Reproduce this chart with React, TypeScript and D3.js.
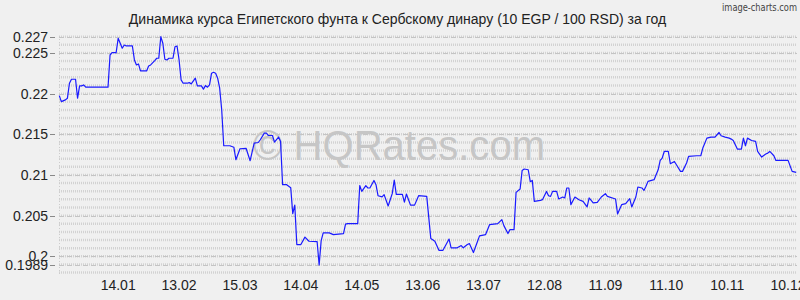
import React from "react";
import * as d3 from "d3";

const title = "Динамика курса Египетского фунта к Сербскому динару (10 EGP / 100 RSD) за год";
const brand = "image-charts.com";
const watermark = "© HQRates.com";

// day offsets from the first point (16.12) and the rate
const rateDays = [
  0, 1, 3, 4, 5, 6, 8, 9, 10, 11, 12, 13, 24, 25, 26, 28, 29, 30, 31, 32, 33, 36, 37, 38, 39, 40, 43, 44, 45, 47,
  48, 49, 50, 51, 52, 53, 54, 56, 57, 58, 59, 60, 61, 63, 64, 65, 67, 68, 70, 71, 72, 73, 74, 75, 76, 77, 78, 79,
  80, 81, 84, 86, 87, 89, 92, 94, 96, 98, 99, 101, 102, 103, 105, 106, 108, 109, 110, 112, 114, 115, 116, 117, 119,
  121, 123, 127, 128, 129, 130, 133, 135, 140, 141, 142, 147, 148, 149, 151, 152, 153, 155, 156, 157, 159, 160, 162,
  164, 165, 166, 169, 170, 171, 173, 175, 177, 181, 183, 185, 187, 189, 192, 193, 196, 198, 199, 201, 202, 204, 206,
  207, 210, 212, 216, 218, 219, 221, 222, 224, 225, 227, 228, 229, 231, 232, 233, 234, 237, 238, 240, 241, 242, 243,
  245, 246, 248, 249, 250, 251, 252, 254, 256, 258, 260, 261, 263, 265, 267, 269, 270, 274, 275, 277, 279, 281, 282,
  284, 285, 287, 288, 289, 290, 293, 295, 296, 297, 298, 300, 301, 303, 304, 306, 307, 309, 310, 314, 316, 317, 319,
  321, 323, 325, 326, 328, 330, 331, 332, 334, 336, 337, 338, 339, 341, 343, 344, 346, 348, 349, 350, 352, 353, 359,
  361, 363,
];
const rates = [
  0.21976, 0.21902, 0.21923, 0.21944, 0.22128, 0.22177, 0.22177, 0.21944, 0.22095, 0.22095, 0.22107, 0.22079, 0.22079,
  0.22475, 0.22504, 0.22504, 0.2268, 0.22619, 0.22558, 0.22598, 0.22586, 0.22586, 0.22414, 0.22353, 0.22365, 0.22279,
  0.22279, 0.2234, 0.22353, 0.22406, 0.22435, 0.22435, 0.227, 0.22619, 0.22423, 0.22414, 0.22435, 0.22435, 0.22577,
  0.22586, 0.22414, 0.22169, 0.22128, 0.22128, 0.22136, 0.2212, 0.2219, 0.22095, 0.22095, 0.22055, 0.22099, 0.22079,
  0.22107, 0.22251, 0.22263, 0.22251, 0.2219, 0.22067, 0.21801, 0.21359, 0.21359, 0.2134, 0.21187, 0.21322, 0.21328,
  0.21175, 0.21392, 0.21399, 0.21433, 0.21515, 0.21515, 0.21485, 0.21485, 0.21404, 0.21466, 0.21412, 0.2088, 0.2088,
  0.20844, 0.20525, 0.20629, 0.20144, 0.20144, 0.20236, 0.20185, 0.20181, 0.19893, 0.20193, 0.20288, 0.20288, 0.20267,
  0.20279, 0.20396, 0.20402, 0.20402, 0.2087, 0.20798, 0.20868, 0.2084, 0.2084, 0.20933, 0.2088, 0.20745, 0.2073,
  0.20758, 0.20619, 0.2077, 0.20938, 0.20761, 0.20761, 0.20666, 0.20766, 0.20629, 0.20629, 0.20745, 0.20737, 0.2022,
  0.20185, 0.20074, 0.20074, 0.20212, 0.20104, 0.20104, 0.20132, 0.20104, 0.20144, 0.20156, 0.20046, 0.20181, 0.20251,
  0.20267, 0.2039, 0.20402, 0.20451, 0.20377, 0.20279, 0.20328, 0.20328, 0.20786, 0.20828, 0.21056, 0.21073, 0.21064,
  0.20917, 0.20933, 0.20675, 0.20688, 0.20696, 0.20798, 0.20745, 0.20737, 0.20798, 0.20798, 0.20705, 0.20729, 0.20717,
  0.2084, 0.2084, 0.20635, 0.20729, 0.20696, 0.20675, 0.20607, 0.20717, 0.20656, 0.20663, 0.20729, 0.2077, 0.20737,
  0.20705, 0.20521, 0.20635, 0.20647, 0.20709, 0.20607, 0.20729, 0.20852, 0.2084, 0.2081, 0.2086, 0.20921, 0.20942,
  0.21064, 0.21179, 0.21208, 0.21289, 0.21289, 0.21138, 0.21166, 0.21126, 0.21044, 0.21044, 0.21147, 0.21228, 0.21236,
  0.21236, 0.21331, 0.21453, 0.21466, 0.21466, 0.21522, 0.21482, 0.21466, 0.21453, 0.21441, 0.21424, 0.21318, 0.21318,
  0.21453, 0.21359, 0.21453, 0.21424, 0.21412, 0.21289, 0.2122, 0.21257, 0.21269, 0.21289, 0.21236, 0.21179, 0.21179,
  0.21044, 0.21031,
];

const xTickDays = [29, 59, 89, 119, 149, 179, 209, 239, 269, 299, 329, 359];
const xTickLabels = ["14.01", "13.02", "15.03", "14.04", "14.05", "13.06", "13.07", "12.08", "11.09", "11.10", "10.11", "10.12"];
const yTickValues = [0.227, 0.225, 0.22, 0.215, 0.21, 0.205, 0.2, 0.1989];
const yTickLabels = ["0.227", "0.225", "0.22", "0.215", "0.21", "0.205", "0.2", "0.1989"];

const W = 800;
const H = 300;
const FONT = "'Liberation Sans', Arial, sans-serif";

export default function App() {
  const x = d3.scaleLinear().domain([0, 363]).range([59.3, 796.2]);
  const y = d3.scaleLinear().domain([0.1977, 0.227]).range([275, 36.7]);
  const minorGrid = d3.range(0, 30).map((i) => 0.198 + i * 0.001);

  const pts = rateDays.map((d, i) => [d, rates[i]] as [number, number]);
  const line = d3
    .line<[number, number]>()
    .x((d) => x(d[0]))
    .y((d) => y(d[1]));

  const left = 59;
  const right = 797;

  return (
    <svg
      width={W}
      height={H}
      style={{ position: "absolute", left: 0, top: 0, fontFamily: FONT }}
    >
      <rect x={0} y={0} width={W} height={H} fill="#f0f0f0" />
      {/* minor grid */}
      {minorGrid.map((v, i) => (
        <line
          key={"m" + i}
          x1={left}
          x2={right}
          y1={y(v)}
          y2={y(v)}
          stroke="#d2d2d2"
          strokeWidth={2.5}
          strokeDasharray="1 1"
        />
      ))}
      {/* major grid */}
      {yTickValues.map((v, i) => (
        <line
          key={"M" + i}
          x1={left}
          x2={right}
          y1={Math.round(y(v)) + 0.5}
          y2={Math.round(y(v)) + 0.5}
          stroke="#c4c4c4"
          strokeWidth={1}
          strokeDasharray="5 3"
        />
      ))}
      <line x1={left + 0.5} x2={left + 0.5} y1={36} y2={276} stroke="#cccccc" strokeDasharray="1 2" />
      {/* y ticks and labels */}
      {yTickValues.map((v, i) => (
        <g key={"yl" + i}>
          <line x1={50} x2={55} y1={Math.round(y(v)) + 0.5} y2={Math.round(y(v)) + 0.5} stroke="#888" />
          <text x={48} y={y(v) + 5} textAnchor="end" fontSize={14} fill="#222">
            {yTickLabels[i]}
          </text>
        </g>
      ))}
      {/* x labels */}
      {xTickDays.map((d, i) => (
        <text key={"xl" + i} x={x(d)} y={290} textAnchor="middle" fontSize={14} fill="#222">
          {xTickLabels[i]}
        </text>
      ))}
      {/* watermark */}
      <text
        x={253}
        y={160}
        fontSize={42}
        fill="#c6c6c6"
        textLength={292}
        lengthAdjust="spacingAndGlyphs"
      >
        {watermark}
      </text>
      {/* series */}
      <path d={line(pts) || ""} fill="none" stroke="#1a1aff" strokeWidth={1.2} strokeLinejoin="round" />
      {/* title */}
      <text x={397.5} y={24} textAnchor="middle" fontSize={14} fill="#222">
        {title}
      </text>
      <text
        x={722}
        y={11}
        fontSize={11}
        fill="#444"
        textLength={75}
        lengthAdjust="spacingAndGlyphs"
        fontFamily="'DejaVu Sans Condensed', 'DejaVu Sans', sans-serif"
      >
        {brand}
      </text>
    </svg>
  );
}
